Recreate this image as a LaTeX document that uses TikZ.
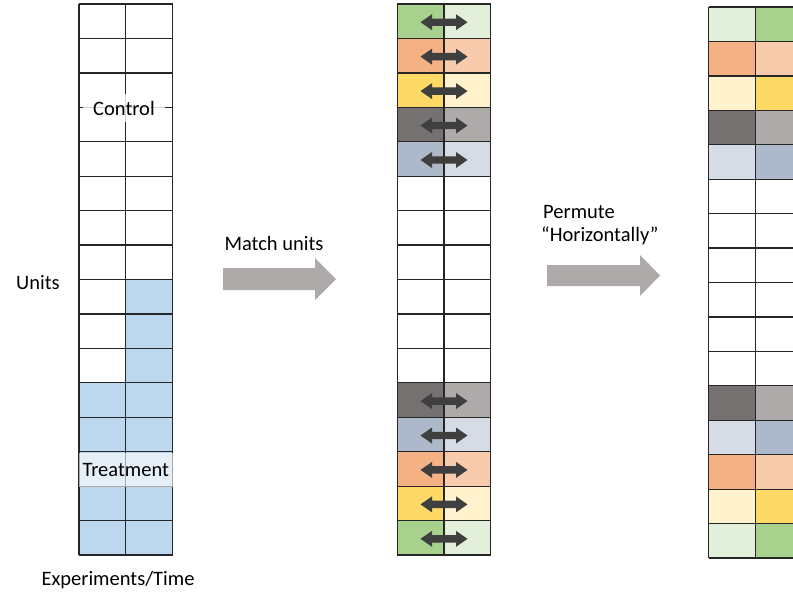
\documentclass[tikz,border=0pt]{standalone}
\usepackage{fontspec}
\setmainfont{Carlito}
\definecolor{gA}{HTML}{A9D18E}
\definecolor{gB}{HTML}{E2EFDA}
\definecolor{oA}{HTML}{F4B183}
\definecolor{oB}{HTML}{F8CBAD}
\definecolor{yA}{HTML}{FFD966}
\definecolor{yB}{HTML}{FFF2CC}
\definecolor{kA}{HTML}{767171}
\definecolor{kB}{HTML}{AEAAAA}
\definecolor{bA}{HTML}{ADB9CA}
\definecolor{bB}{HTML}{D6DCE5}
\definecolor{tb}{HTML}{BDD7EE}
\definecolor{bigarrow}{HTML}{AEAAAA}
\definecolor{darrow}{HTML}{3F3F3F}
\begin{document}
\begin{tikzpicture}[x=1pt,y=-1pt,
  font=\fontsize{20.5}{24}\selectfont,
  gridline/.style={draw=black!85, line width=1.3pt},
  lbl/.style={inner sep=0pt, text=black},
  dbl/.pic={\fill[darrow] (-23.5,0) -- (-12,-8) -- (-12,-3.7) -- (12,-3.7) -- (12,-8) -- (23.5,0) -- (12,8) -- (12,3.7) -- (-12,3.7) -- (-12,8) -- cycle;},
  bigarr/.style={fill=bigarrow}]
\clip (0,0) rectangle (793,592);
\fill[white] (0,0) rectangle (793,592);
\def\H{34.44}
% ---------- grid 1 ----------
\def\W{46.8}
\begin{scope}[shift={(79,4)}]
  \fill[tb] (\W,8*\H) rectangle (2*\W,11*\H);
  \fill[tb] (0,11*\H) rectangle (2*\W,16*\H);
  \foreach \i in {0,...,16} \draw[gridline] (0,\i*\H) -- (2*\W,\i*\H);
  \foreach \j in {0,1,2} \draw[gridline] (\j*\W,0) -- (\j*\W,16*\H);
\end{scope}
\node[lbl, fill=white, fill opacity=0.8, text opacity=1, minimum width=82pt, minimum height=28pt] (control) at (124,108) {Control};
\node[lbl, fill=white, fill opacity=0.6, text opacity=1, minimum width=93.6pt, minimum height=34pt] (treat) at (125.8,470) {Treatment};
\node[lbl] (units) at (38,283) {Units};
\node[lbl] (exp) at (118,580) {Experiments/Time};
% ---------- grid 2 ----------
\def\W{46.7}
\begin{scope}[shift={(397.3,4)}]
  \foreach \r/\cl/\cr in {0/gA/gB,1/oA/oB,2/yA/yB,3/kA/kB,4/bA/bB,11/kA/kB,12/bA/bB,13/oA/oB,14/yA/yB,15/gA/gB}{
    \fill[\cl] (0,\r*\H) rectangle (\W,\r*\H+\H);
    \fill[\cr] (\W,\r*\H) rectangle (2*\W,\r*\H+\H);
  }
  \foreach \i in {0,...,16} \draw[gridline] (0,\i*\H) -- (2*\W,\i*\H);
  \foreach \j in {0,1,2} \draw[gridline] (\j*\W,0) -- (\j*\W,16*\H);
  \foreach \r in {0,1,2,3,4,11,12,13,14,15}
    \pic at (\W,{(\r+0.5)*\H+1}) {dbl};
\end{scope}
% ---------- grid 3 ----------
\def\W{47}
\begin{scope}[shift={(708.7,7)}]
  \foreach \r/\cl/\cr in {0/gB/gA,1/oA/oB,2/yB/yA,3/kA/kB,4/bB/bA,11/kA/kB,12/bB/bA,13/oA/oB,14/yB/yA,15/gB/gA}{
    \fill[\cl] (0,\r*\H) rectangle (\W,\r*\H+\H);
    \fill[\cr] (\W,\r*\H) rectangle (2*\W,\r*\H+\H);
  }
  \foreach \i in {0,...,16} \draw[gridline] (0,\i*\H) -- (2*\W,\i*\H);
  \foreach \j in {0,1,2} \draw[gridline] (\j*\W,0) -- (\j*\W,16*\H);
\end{scope}
% ---------- big arrows ----------
\fill[bigarr] (223,268) -- (315,268) -- (315,258) -- (336,279) -- (315,300) -- (315,290) -- (223,290) -- cycle;
\node[lbl] (match) at (274,243) {Match units};
\fill[bigarr] (547,265) -- (640,265) -- (640,255) -- (660,275.5) -- (640,296) -- (640,286) -- (547,286) -- cycle;
\node[lbl, align=left, anchor=north west] (perm) at (541,205) {\hspace*{2pt}Permute\\[-1pt]“Horizontally”};
\end{tikzpicture}
\end{document}
